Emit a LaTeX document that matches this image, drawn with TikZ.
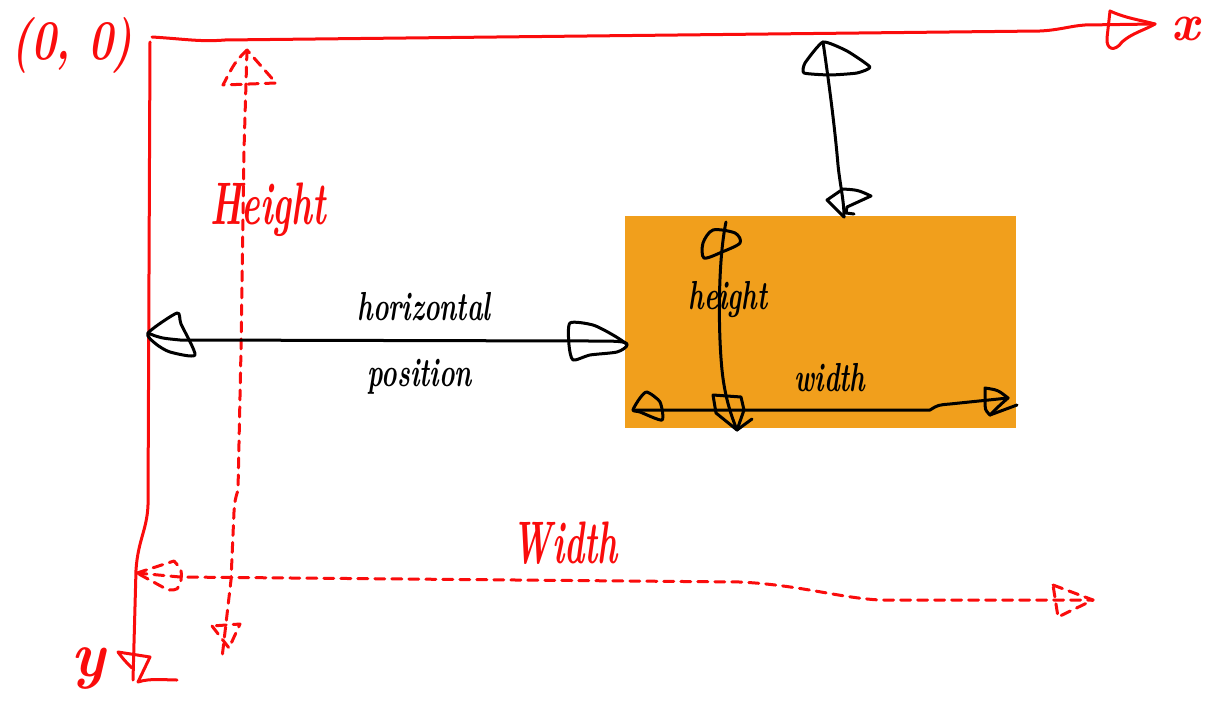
\documentclass[tikz,border=0pt]{standalone}
\definecolor{penred}{RGB}{250,12,12}
\definecolor{boxorange}{RGB}{241,159,28}
\begin{document}
\begin{tikzpicture}[x=1pt,y=-1pt,
  axis/.style={draw=penred,line width=3pt,line cap=round,line join=round},
  guide/.style={axis,dash pattern=on 10pt off 7pt},
  ink/.style={draw=black,line width=3pt,line cap=round,line join=round},
  redlabel/.style={text=penred,inner sep=0pt,font=\fontsize{40}{40}\selectfont\bfseries\itshape},
  inklabel/.style={text=black,inner sep=0pt,font=\fontsize{30}{30}\selectfont\bfseries\itshape}]
\useasboundingbox (0,0) rectangle (1214,706);

% the box being positioned
\node[fill=boxorange,minimum width=391pt,minimum height=212pt,inner sep=0pt,
      anchor=north west] (box) at (625,216) {};

% ---- coordinate axes ----
\coordinate (origin) at (152,37);
\coordinate (xtip) at (1155,24);
\coordinate (ytop) at (150,42);
\coordinate (ytip) at (133,680);
\draw[axis] (origin) .. controls (185,39) and (200,42) .. (225,40) -- (1040,31)
  .. controls (1060,30) and (1070,26) .. (1085,25) -- (xtip);
\draw[axis] (1110,11) .. controls (1125,18) and (1140,20) .. (xtip)
  .. controls (1145,30) and (1132,33) .. (1122,42)
  .. controls (1115,52) and (1106,50) .. (1107,38) -- cycle;
\draw[axis] (ytop) -- (148,505) .. controls (147,530) and (138,540) .. (136,570) -- (ytip);
\draw[axis] (118,652) -- (150,657) -- (138,682) .. controls (150,678) and (165,680) .. (177,680);
\draw[axis] (118,652) .. controls (124,660) .. (132,668);

\node[redlabel,anchor=base] (xlab) at (1186,41) {\scalebox{1.25}[1.3]{x}};
\node[redlabel] (ylab) at (88,668) {\scalebox{1.5}[1.6]{y}};
\node[redlabel] (olab) at (72,45) {\scalebox{1.05}[1.4]{(0, 0)}};

% ---- canvas height (dashed) ----
\coordinate (htop) at (247,50);
\coordinate (hbot) at (222,658);
\draw[guide] (htop) -- (244,150) -- (241,350) -- (238,490) .. controls (235,500) .. (234,512)
  -- (231,580) -- (hbot);
\draw[guide] (htop) .. controls (235,62) .. (223,85) -- (276,83) -- cycle;
\draw[guide] (212,626) -- (229,648) -- (240,624) -- cycle;
\node[redlabel] (Hlab) at (268,210) {\scalebox{0.88}[1.5]{Height}};

% ---- canvas width (dashed) ----
\coordinate (wleft) at (137,573);
\coordinate (wright) at (1093,600);
\draw[guide] (wleft) -- (180,577) -- (740,582) .. controls (800,585) and (840,598) .. (880,600)
  -- (wright);
\draw[guide] (wleft) -- (174,561) .. controls (182,570) .. (181,580) .. controls (178,590) .. (168,590) -- cycle;
\draw[guide] (1053,585) -- (wright) -- (1058,617) -- cycle;
\node[redlabel] (Wlab) at (565,543) {\scalebox{0.85}[1.5]{Width}};

% ---- horizontal position ----
\coordinate (hpl) at (148,333);
\coordinate (hpr) at (627,345);
\draw[ink] (hpl) .. controls (160,338) .. (180,340) -- (590,341)
  .. controls (615,341) and (628,341) .. (hpr);
\draw[ink] plot[smooth cycle,tension=0.4] coordinates
  {(148,333) (177,313) (181,324) (195,355) (170,352) (156,344)};
\draw[ink] plot[smooth cycle,tension=0.4] coordinates
  {(570,323) (593,325) (613,335) (627,345) (617,352) (590,355) (573,360) (569,345)};
\node[inklabel] (hplab1) at (424,307) {\scalebox{0.88}[1.35]{horizontal}};
\node[inklabel] (hplab2) at (420,377) {\scalebox{0.88}[1.35]{position}};

% ---- vertical position ----
\coordinate (vpt) at (823,42);
\coordinate (vpb) at (844,217);
\draw[ink] (vpt) .. controls (830,90) and (835,130) .. (838,165)
  .. controls (840,185) and (844,200) .. (vpb);
\draw[ink] plot[smooth cycle,tension=0.3] coordinates
  {(823,42) (805,63) (804,73) (830,75) (857,73) (870,67) (847,51)};
\draw[ink] (vpb) -- (827,200) -- (843,189) .. controls (858,190) .. (871,196)
  -- (847,207) -- (846,213) -- (854,214);

% ---- box height ----
\coordinate (bht) at (726,222);
\coordinate (bhb) at (737,430);
\draw[ink] (bht) .. controls (718,260) and (718,330) .. (722,370)
  .. controls (725,400) and (733,420) .. (bhb);
\draw[ink] plot[smooth cycle,tension=0.5] coordinates
  {(713,230) (735,233) (740,243) (722,252) (704,258) (703,243)};
\draw[ink] (713,395) -- (741,397) -- (744,410) -- (bhb) -- (716,413) -- cycle;
\draw[ink] (bhb) -- (752,419);
\node[inklabel] (bhlab) at (728,300) {\scalebox{0.88}[1.35]{height}};

% ---- box width ----
\coordinate (bwl) at (633,410);
\coordinate (bwr) at (1017,405);
\draw[ink] (bwl) -- (930,410) .. controls (938,405) .. (950,404) -- (1008,398);
\draw[ink] (990,415) -- (bwr);
\draw[ink] plot[smooth cycle,tension=0.4] coordinates
  {(647,392) (660,402) (662,420) (640,412) (633,410) (640,398)};
\draw[ink] (985,388) .. controls (998,390) .. (1008,398) .. controls (1000,405) .. (990,415)
  .. controls (985,410) .. (985,400) -- cycle;
\node[inklabel] (bwlab) at (830,378) {\scalebox{0.88}[1.35]{width}};
\end{tikzpicture}
\end{document}
